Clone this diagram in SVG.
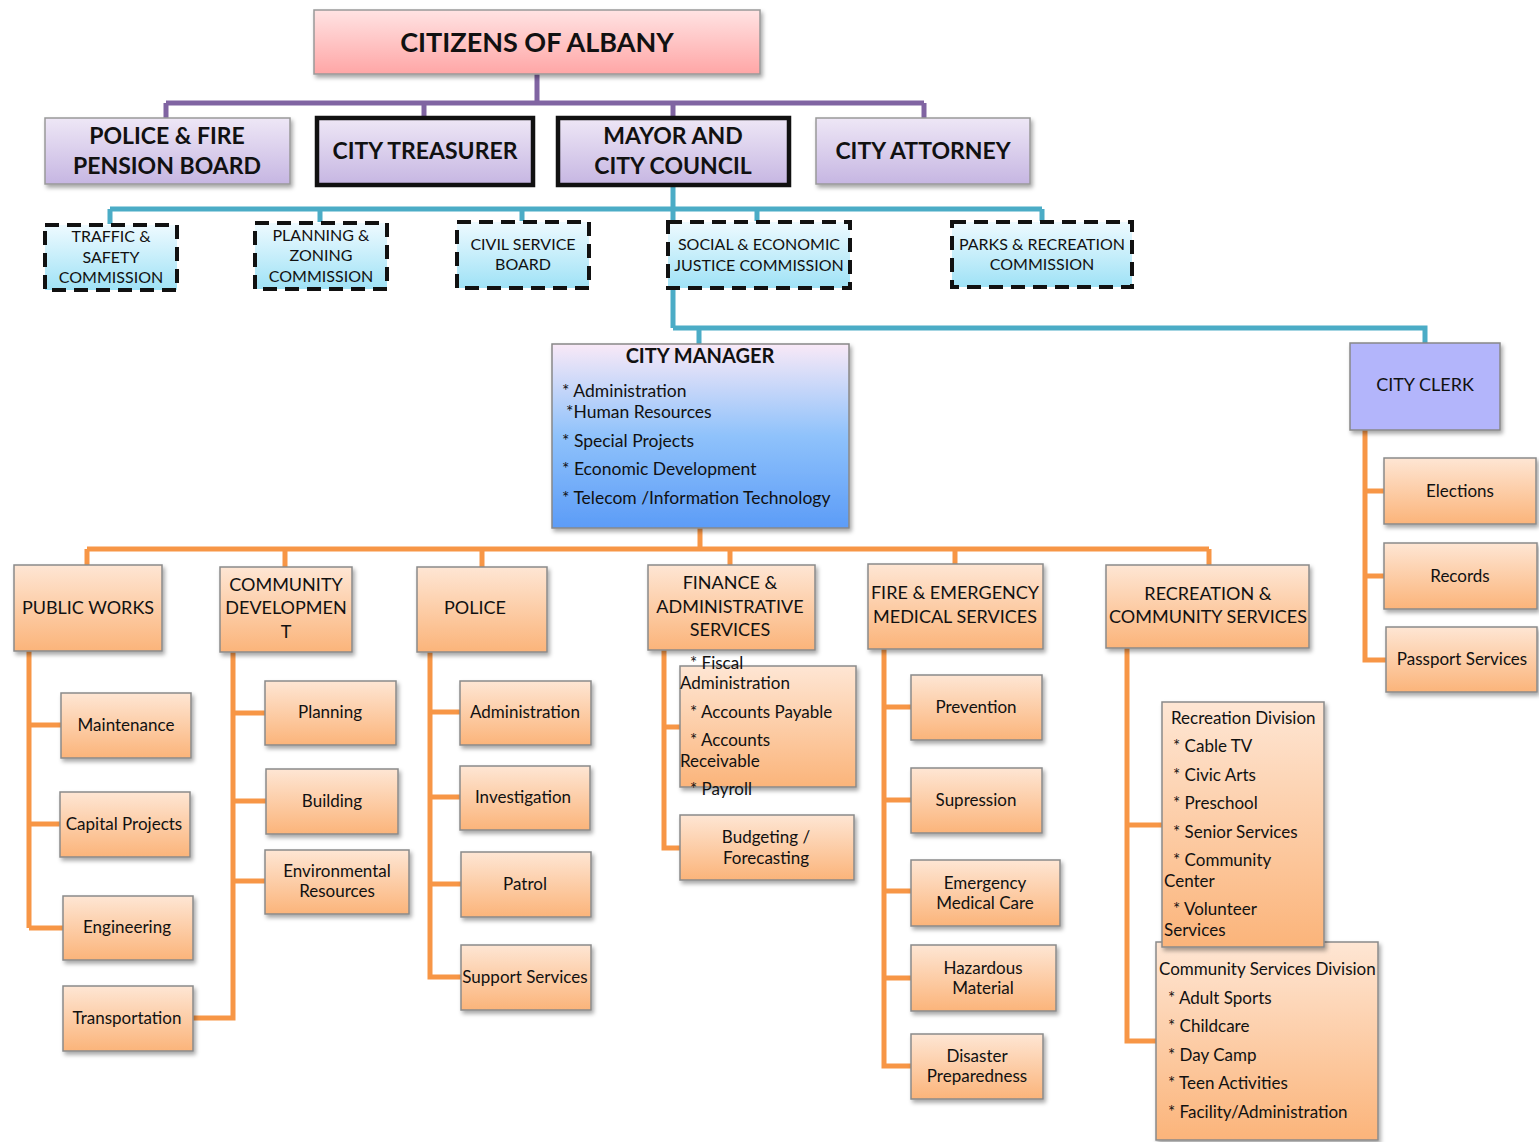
<svg xmlns="http://www.w3.org/2000/svg" width="1539" height="1142" viewBox="0 0 1539 1142">
<defs>
<linearGradient id="gPink" x1="0" y1="0" x2="0" y2="1"><stop offset="0" stop-color="#ffe3e3"/><stop offset="1" stop-color="#ffa6a6"/></linearGradient>
<linearGradient id="gLav" x1="0" y1="0" x2="0" y2="1"><stop offset="0" stop-color="#eee7f6"/><stop offset="1" stop-color="#c6b6e2"/></linearGradient>
<linearGradient id="gCyan" x1="0" y1="0" x2="0" y2="1"><stop offset="0" stop-color="#eefaff"/><stop offset="1" stop-color="#9fe2f6"/></linearGradient>
<linearGradient id="gMgr" x1="0" y1="0" x2="0" y2="1"><stop offset="0" stop-color="#f9e9f7"/><stop offset="0.5" stop-color="#8fc2fb"/><stop offset="1" stop-color="#5c9cf7"/></linearGradient>
<linearGradient id="gOr" x1="0" y1="0" x2="0" y2="1"><stop offset="0" stop-color="#fee6d4"/><stop offset="1" stop-color="#fbb47a"/></linearGradient>
<filter id="sh" x="-10%" y="-10%" width="130%" height="140%"><feDropShadow dx="2" dy="3" stdDeviation="2" flood-color="#000" flood-opacity="0.35"/></filter>
</defs>
<style>
text{font-family:Lato,"Liberation Sans",sans-serif;fill:#111;}
.c{text-anchor:middle;}
.b{font-weight:bold;}
.pk{fill:url(#gPink);stroke:#999;stroke-width:1.5;filter:url(#sh);}
.lv{fill:url(#gLav);stroke:#999;stroke-width:1.5;filter:url(#sh);}
.lvk{fill:url(#gLav);stroke:#111;stroke-width:4.5;}
.cy{fill:url(#gCyan);stroke:#111;stroke-width:4;stroke-dasharray:14 8;}
.mg{fill:url(#gMgr);stroke:#888;stroke-width:1.5;filter:url(#sh);}
.ck{fill:#b3b5fb;stroke:#888;stroke-width:1.5;filter:url(#sh);}
.or{fill:url(#gOr);stroke:#8a8a8a;stroke-width:1.5;filter:url(#sh);}
.t1{font-size:27px;}
.t2{font-size:23px;}
.t3{font-size:16px;}
.t4{font-size:18px;}
.t5{font-size:17px;}
.t6{font-size:17.5px;}
.pu{stroke:#8064a2;stroke-width:5;fill:none;}
.te{stroke:#4bacc6;stroke-width:5;fill:none;}
.og{stroke:#f79646;stroke-width:5;fill:none;}
</style>

<g id="connectors">
<path class="pu" d="M537 74V103M166 103H924M166 103V118M424 103V117M673 103V117M924 103V118"/>
<path class="te" d="M673 186V328M110 209H1042M110 209V224M320 209V222M522 209V221M757 209V221M1042 209V221M673 328H1425V343M699 328V344"/>
<path class="og" d="M700 528V549M87 549H1209M87 549V565M285 549V567M482 549V567M730 549V565M955 549V564M1209 549V565"/>
<path class="og" d="M29 651V928M29 725H61M29 824H60M29 928H63"/>
<path class="og" d="M233 652V1018H193M233 713H265M233 801H266M233 881H265"/>
<path class="og" d="M430 652V977H461M430 712H460M430 797H460M430 884H461"/>
<path class="og" d="M664 650V848H680M664 727H680"/>
<path class="og" d="M884 649V1066H911M884 707H911M884 800H911M884 891H911M884 978H911"/>
<path class="og" d="M1127 648V1041H1156M1127 825H1162"/>
<path class="og" d="M1365 430V660H1386M1365 491H1384M1365 576H1384"/>
</g>

<g id="citizens"><rect class="pk" x="314" y="10" width="446" height="64"/><text class="c b t1" x="537" y="52">CITIZENS OF ALBANY</text></g>
<g id="pension"><rect class="lv" x="45" y="118" width="245" height="66"/><text class="c b t2" x="167" y="144">POLICE &amp; FIRE</text><text class="c b t2" x="167" y="174">PENSION BOARD</text></g>
<g id="treasurer"><rect class="lvk" x="317" y="118" width="216" height="67"/><text class="c b t2" x="425" y="159">CITY TREASURER</text></g>
<g id="mayor"><rect class="lvk" x="558" y="118" width="231" height="67"/><text class="c b t2" x="673" y="144">MAYOR AND</text><text class="c b t2" x="673" y="174">CITY COUNCIL</text></g>
<g id="attorney"><rect class="lv" x="816" y="118" width="214" height="66"/><text class="c b t2" x="923" y="159">CITY ATTORNEY</text></g>

<g id="traffic"><rect class="cy" x="45" y="225" width="132" height="65"/><text class="c t3" x="111" y="242">TRAFFIC &amp;</text><text class="c t3" x="111" y="263">SAFETY</text><text class="c t3" x="111" y="283">COMMISSION</text></g>
<g id="planningzoning"><rect class="cy" x="255" y="223" width="132" height="66"/><text class="c t3" x="321" y="241">PLANNING &amp;</text><text class="c t3" x="321" y="261">ZONING</text><text class="c t3" x="321" y="282">COMMISSION</text></g>
<g id="civil"><rect class="cy" x="457" y="222" width="132" height="66"/><text class="c t3" x="523" y="250">CIVIL SERVICE</text><text class="c t3" x="523" y="270">BOARD</text></g>
<g id="social"><rect class="cy" x="668" y="222" width="182" height="66"/><text class="c t3" x="759" y="250">SOCIAL &amp; ECONOMIC</text><text class="c t3" x="759" y="271">JUSTICE COMMISSION</text></g>
<g id="parks"><rect class="cy" x="952" y="222" width="180" height="65"/><text class="c t3" x="1042" y="250">PARKS &amp; RECREATION</text><text class="c t3" x="1042" y="270">COMMISSION</text></g>

<g id="manager"><rect class="mg" x="552" y="344" width="297" height="184"/>
<text class="c b" style="font-size:20px" x="700" y="363">CITY MANAGER</text>
<text class="t6" x="562" y="397">* Administration</text>
<text class="t6" x="566" y="418">*Human Resources</text>
<text class="t6" x="562" y="447">* Special Projects</text>
<text class="t6" x="562" y="475">* Economic Development</text>
<text class="t6" x="562" y="504">* Telecom /Information Technology</text></g>

<g id="clerk"><rect class="ck" x="1350" y="343" width="150" height="87"/><text class="c t4" x="1425" y="391">CITY CLERK</text></g>
<g id="elections"><rect class="or" x="1384" y="458" width="152" height="66"/><text class="c t5" x="1460" y="497">Elections</text></g>
<g id="records"><rect class="or" x="1384" y="543" width="153" height="66"/><text class="c t5" x="1460" y="582">Records</text></g>
<g id="passport"><rect class="or" x="1386" y="627" width="151" height="65"/><text class="c t5" x="1462" y="665">Passport Services</text></g>

<g id="publicworks"><rect class="or" x="14" y="565" width="148" height="86"/><text class="c t4" x="88" y="614">PUBLIC WORKS</text></g>
<g id="communitydev"><rect class="or" x="220" y="567" width="132" height="85"/><text class="c t4" x="286" y="591">COMMUNITY</text><text class="c t4" x="286" y="614">DEVELOPMEN</text><text class="c t4" x="286" y="638">T</text></g>
<g id="police"><rect class="or" x="417" y="567" width="130" height="85"/><text class="c t4" x="475" y="614">POLICE</text></g>
<g id="finance"><rect class="or" x="648" y="565" width="167" height="85"/><text class="c t4" x="730" y="589">FINANCE &amp;</text><text class="c t4" x="730" y="613">ADMINISTRATIVE</text><text class="c t4" x="730" y="636">SERVICES</text></g>
<g id="fire"><rect class="or" x="868" y="564" width="175" height="85"/><text class="c t4" x="955" y="599">FIRE &amp; EMERGENCY</text><text class="c t4" x="955" y="623">MEDICAL SERVICES</text></g>
<g id="recreation"><rect class="or" x="1106" y="565" width="203" height="83"/><text class="c t4" x="1208" y="600">RECREATION &amp;</text><text class="c t4" x="1208" y="623">COMMUNITY SERVICES</text></g>

<g id="maintenance"><rect class="or" x="61" y="693" width="130" height="65"/><text class="c t5" x="126" y="731">Maintenance</text></g>
<g id="capital"><rect class="or" x="60" y="792" width="130" height="65"/><text class="c t5" x="124" y="830">Capital Projects</text></g>
<g id="engineering"><rect class="or" x="63" y="896" width="130" height="64"/><text class="c t5" x="127" y="933">Engineering</text></g>
<g id="transportation"><rect class="or" x="63" y="986" width="130" height="65"/><text class="c t5" x="127" y="1024">Transportation</text></g>

<g id="planning"><rect class="or" x="265" y="681" width="131" height="64"/><text class="c t5" x="330" y="718">Planning</text></g>
<g id="building"><rect class="or" x="266" y="769" width="132" height="65"/><text class="c t5" x="332" y="807">Building</text></g>
<g id="environmental"><rect class="or" x="265" y="850" width="144" height="64"/><text class="c t5" x="337" y="877">Environmental</text><text class="c t5" x="337" y="897">Resources</text></g>

<g id="policeadmin"><rect class="or" x="460" y="681" width="131" height="64"/><text class="c t5" x="525" y="718">Administration</text></g>
<g id="investigation"><rect class="or" x="460" y="766" width="130" height="64"/><text class="c t5" x="523" y="803">Investigation</text></g>
<g id="patrol"><rect class="or" x="461" y="852" width="130" height="65"/><text class="c t5" x="525" y="890">Patrol</text></g>
<g id="support"><rect class="or" x="461" y="945" width="130" height="65"/><text class="c t5" x="525" y="983">Support Services</text></g>

<g id="fiscal"><rect class="or" x="680" y="666" width="176" height="121"/>
<text class="t5" x="690" y="669">* Fiscal</text>
<text class="t5" x="680" y="689">Administration</text>
<text class="t5" x="690" y="718">* Accounts Payable</text>
<text class="t5" x="690" y="746">* Accounts</text>
<text class="t5" x="680" y="767">Receivable</text>
<text class="t5" x="690" y="795">* Payroll</text></g>
<g id="budgeting"><rect class="or" x="680" y="815" width="174" height="65"/><text class="c t5" x="766" y="843">Budgeting /</text><text class="c t5" x="766" y="864">Forecasting</text></g>

<g id="prevention"><rect class="or" x="911" y="675" width="131" height="65"/><text class="c t5" x="976" y="713">Prevention</text></g>
<g id="supression"><rect class="or" x="911" y="768" width="131" height="65"/><text class="c t5" x="976" y="806">Supression</text></g>
<g id="ems"><rect class="or" x="911" y="860" width="149" height="66"/><text class="c t5" x="985" y="889">Emergency</text><text class="c t5" x="985" y="909">Medical Care</text></g>
<g id="hazmat"><rect class="or" x="911" y="945" width="145" height="66"/><text class="c t5" x="983" y="974">Hazardous</text><text class="c t5" x="983" y="994">Material</text></g>
<g id="disaster"><rect class="or" x="911" y="1034" width="132" height="65"/><text class="c t5" x="977" y="1062">Disaster</text><text class="c t5" x="977" y="1082">Preparedness</text></g>

<g id="communityservices"><rect class="or" x="1156" y="942" width="222" height="198"/>
<text class="t5" x="1159" y="975">Community Services Division</text>
<text class="t5" x="1168" y="1004">* Adult Sports</text>
<text class="t5" x="1168" y="1032">* Childcare</text>
<text class="t5" x="1168" y="1061">* Day Camp</text>
<text class="t5" x="1168" y="1089">* Teen Activities</text>
<text class="t5" x="1168" y="1118">* Facility/Administration</text></g>
<g id="recreationdiv"><rect class="or" x="1162" y="702" width="162" height="245"/>
<text class="t5" x="1171" y="724">Recreation Division</text>
<text class="t5" x="1173" y="752">* Cable TV</text>
<text class="t5" x="1173" y="781">* Civic Arts</text>
<text class="t5" x="1173" y="809">* Preschool</text>
<text class="t5" x="1173" y="838">* Senior Services</text>
<text class="t5" x="1173" y="866">* Community</text>
<text class="t5" x="1164" y="887">Center</text>
<text class="t5" x="1173" y="915">* Volunteer</text>
<text class="t5" x="1164" y="936">Services</text></g>
</svg>
